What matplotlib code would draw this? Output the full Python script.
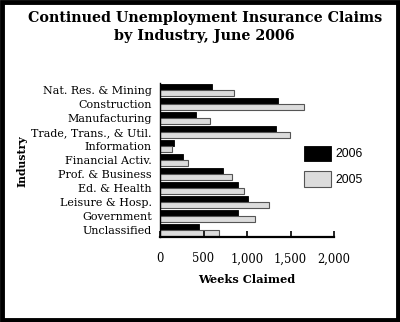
import matplotlib
matplotlib.use("Agg")
import matplotlib.pyplot as plt
from matplotlib.patches import Rectangle
import numpy as np

industries = ["Nat. Res. & Mining", "Construction", "Manufacturing",
              "Trade, Trans., & Util.", "Information", "Financial Activ.",
              "Prof. & Business", "Ed. & Health", "Leisure & Hosp.",
              "Government", "Unclassified"]
claims_2006 = [592, 1357, 411, 1334, 157, 261, 719, 896, 1011, 896, 446]
claims_2005 = [846, 1654, 577, 1496, 134, 319, 823, 965, 1253, 1096, 676]
xticks = [0, 500, 1000, 1500, 2000]
xtick_labels = ["0", "500", "1,000", "1,500", "2,000"]

serif = "DejaVu Serif"

fig = plt.figure(figsize=(4.0, 3.22), dpi=100)
ax = fig.add_axes([0.40, 0.264, 0.435, 0.478])

y = np.arange(len(industries))
h = 0.41
ax.barh(y - h / 2, claims_2006, height=h, color="black", edgecolor="black",
        linewidth=0.6, label="2006")
ax.barh(y + h / 2, claims_2005, height=h, color="#dcdcdc", edgecolor="#555555",
        linewidth=0.8, label="2005")

ax.set_ylim(len(industries) - 0.5, -0.5)
ax.set_xlim(0, 2000)
ax.set_yticks(y)
ax.set_yticklabels(industries, fontfamily=serif, fontsize=8.0)
ax.set_xticks(xticks)
ax.set_xticklabels(xtick_labels, fontfamily=serif, fontsize=8.3)
ax.tick_params(axis="y", length=0, pad=6)
ax.tick_params(axis="x", direction="in", length=4, width=1.2, pad=11)
for s in ["top", "right"]:
    ax.spines[s].set_visible(False)
ax.spines["left"].set_linewidth(1.0)
ax.spines["bottom"].set_linewidth(1.6)

ax.set_xlabel("Weeks Claimed", fontfamily=serif, fontweight="bold",
              fontsize=8.2, labelpad=6)
fig.text(0.055, 0.50, "Industry", rotation=90, ha="center", va="center",
         fontfamily=serif, fontweight="bold", fontsize=7.8)

fig.text(0.512, 0.945, "Continued Unemployment Insurance Claims",
         ha="center", va="center", fontfamily=serif, fontweight="bold",
         fontsize=10.3)
fig.text(0.512, 0.888, "by Industry, June 2006",
         ha="center", va="center", fontfamily=serif, fontweight="bold",
         fontsize=10.3)

leg = fig.legend(loc="center left", bbox_to_anchor=(0.732, 0.484),
                 frameon=False, handlelength=2.2,
                 handleheight=1.6, handletextpad=0.4, labelspacing=0.8,
                 prop={"family": "Liberation Sans", "size": 8.8})

fig.patches.append(Rectangle((0.005, 0.006), 0.99, 0.988,
                             transform=fig.transFigure, fill=False,
                             edgecolor="black", linewidth=3.5))

fig.savefig("out.png", dpi=100, facecolor="white")
